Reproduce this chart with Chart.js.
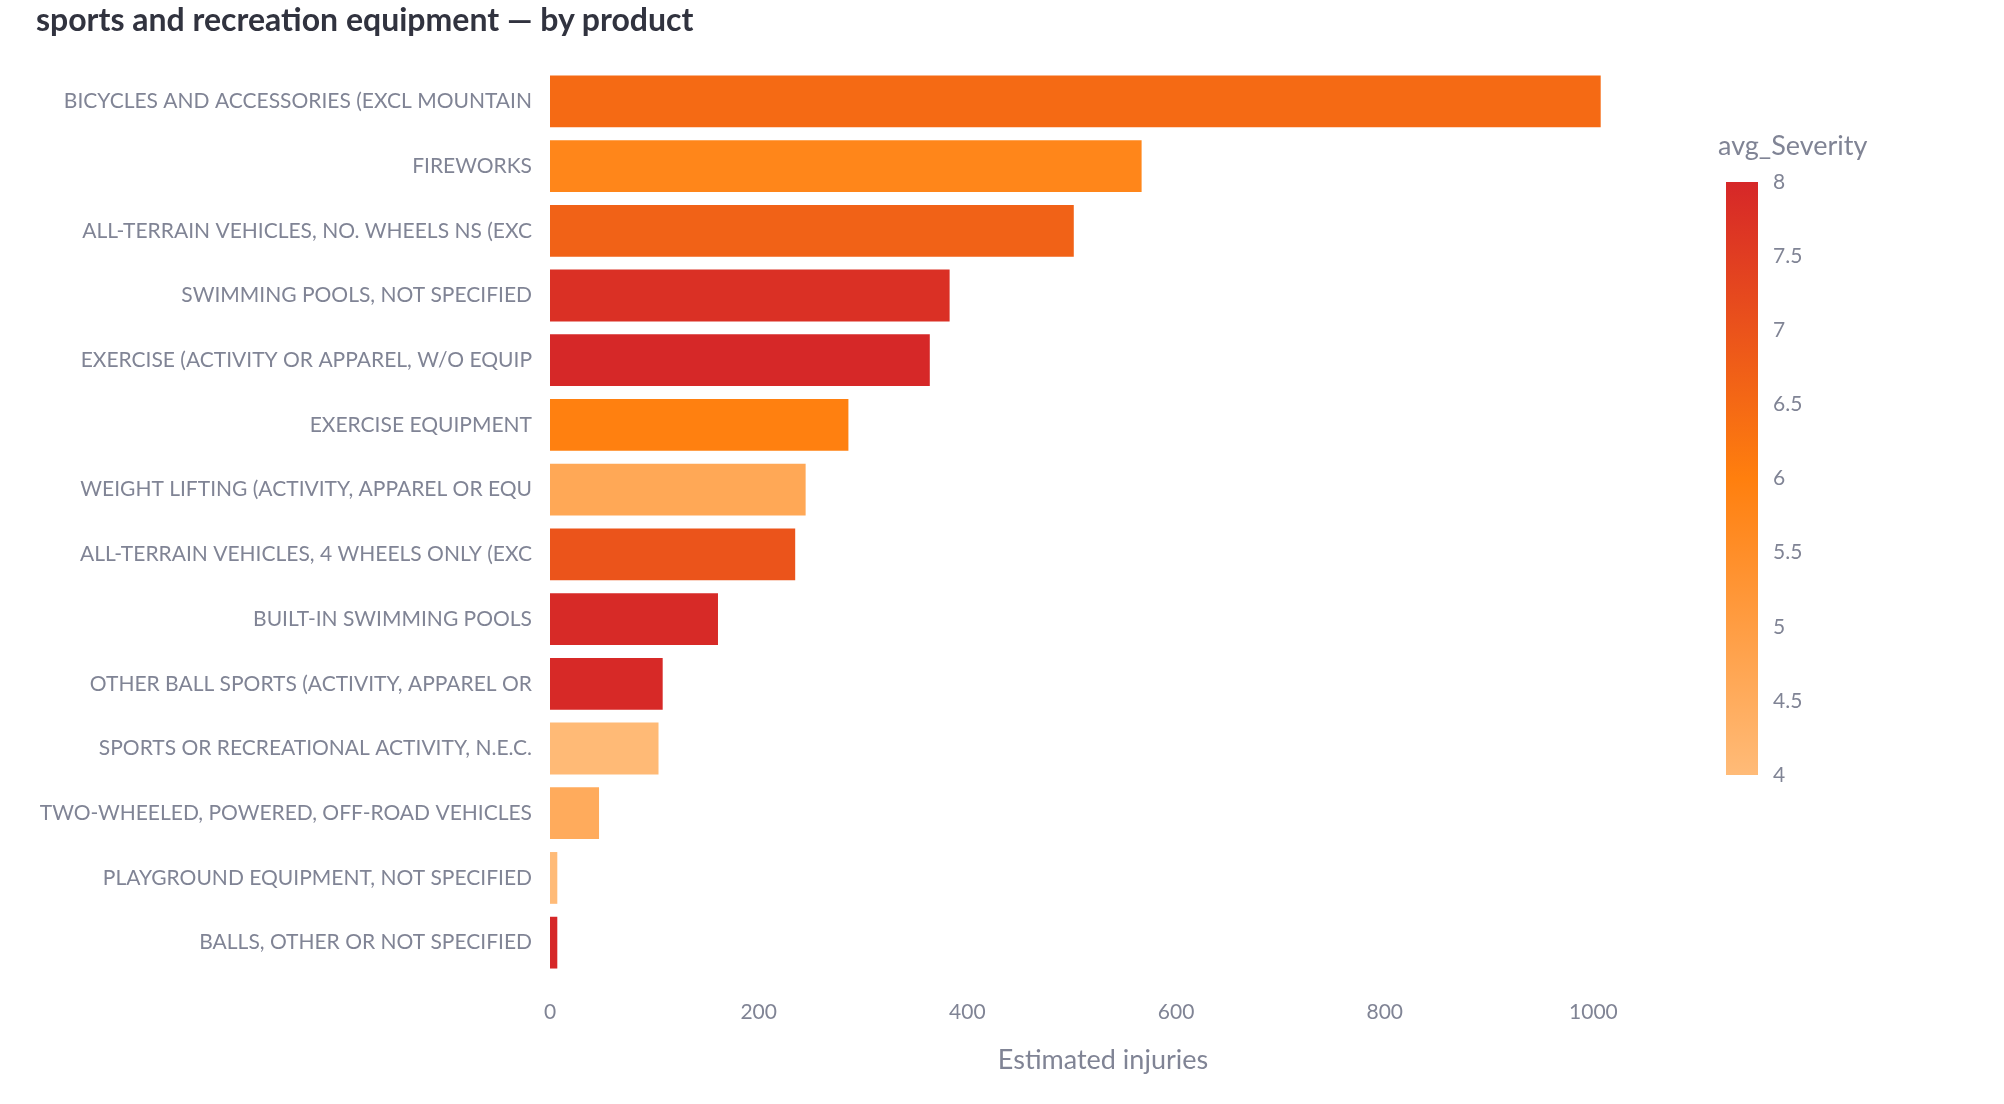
<!DOCTYPE html>
<html lang="en">
<head>
  <meta charset="UTF-8">
  <title>sports and recreation equipment — by product</title>
  <style>
    html, body {
      margin: 0;
      padding: 0;
      background: #fff;
    }
    #wrap {
      position: relative;
      width: 2004px;
      height: 1104px;
    }
    h1 {
      position: absolute;
      left: 36px;
      top: 0;
      margin: 0;
      font: bold 32px Lato, sans-serif;
      line-height: 37px;
      color: #31333F;
    }
    #chart {
      position: absolute;
      left: 0;
      top: 0;
    }
  </style>
</head>
<body>
  <div id="wrap">
    <canvas id="chart" width="2004" height="1104"></canvas>
    <h1>sports and recreation equipment — by product</h1>
  </div>

  <script src="https://cdn.jsdelivr.net/npm/chart.js"></script>
  <script>
    const products = [
      'BICYCLES AND ACCESSORIES (EXCL MOUNTAIN',
      'FIREWORKS',
      'ALL-TERRAIN VEHICLES, NO. WHEELS NS (EXC',
      'SWIMMING POOLS, NOT SPECIFIED',
      'EXERCISE (ACTIVITY OR APPAREL, W/O EQUIP',
      'EXERCISE EQUIPMENT',
      'WEIGHT LIFTING (ACTIVITY, APPAREL OR EQU',
      'ALL-TERRAIN VEHICLES, 4 WHEELS ONLY (EXC',
      'BUILT-IN SWIMMING POOLS',
      'OTHER BALL SPORTS (ACTIVITY, APPAREL OR',
      'SPORTS OR RECREATIONAL ACTIVITY, N.E.C.',
      'TWO-WHEELED, POWERED, OFF-ROAD VEHICLES',
      'PLAYGROUND EQUIPMENT, NOT SPECIFIED',
      'BALLS, OTHER OR NOT SPECIFIED'
    ];
    const injuries = [1007, 567, 502, 383, 364, 286, 245, 235, 161, 108, 104, 47, 7, 7];
    const avgSeverity = [6.48, 5.77, 6.66, 7.8, 7.98, 5.96, 4.65, 6.98, 7.93, 7.96, 4.03, 4.53, 4.0, 8.0];
    const xTicks = [0, 200, 400, 600, 800, 1000];
    const severityTicks = [4, 4.5, 5, 5.5, 6, 6.5, 7, 7.5, 8];

    const textGray = '#808495';
    const sevMin = 4, sevMax = 8;
    // colour stops: low -> mid -> high
    const stops = [[255, 187, 120], [255, 127, 14], [214, 39, 40]];

    function sevColor(v) {
      let t = (v - sevMin) / (sevMax - sevMin);
      t = Math.max(0, Math.min(1, t)) * (stops.length - 1);
      const i = Math.min(Math.floor(t), stops.length - 2);
      const f = t - i;
      const c = stops[i].map((a, k) => Math.round(a + (stops[i + 1][k] - a) * f));
      return `rgb(${c[0]}, ${c[1]}, ${c[2]})`;
    }

    // colour bar on the right
    const colorBar = {
      id: 'colorBar',
      afterDraw(chart) {
        const ctx = chart.ctx;
        const left = 1726, width = 32, top = 182, bottom = 775;
        const grad = ctx.createLinearGradient(0, bottom, 0, top);
        stops.forEach((c, i) => grad.addColorStop(i / (stops.length - 1), `rgb(${c.join(',')})`));
        ctx.save();
        ctx.fillStyle = grad;
        ctx.fillRect(left, top, width, bottom - top);

        ctx.fillStyle = textGray;
        ctx.font = '21px Lato, sans-serif';
        ctx.textAlign = 'left';
        ctx.textBaseline = 'middle';
        severityTicks.forEach(v => {
          const y = bottom - (v - sevMin) / (sevMax - sevMin) * (bottom - top);
          ctx.fillText(String(v), left + width + 15, y);
        });

        ctx.font = '27px Lato, sans-serif';
        ctx.fillText('avg_Severity', 1718, 146);
        ctx.restore();
      }
    };

    new Chart(document.getElementById('chart'), {
      type: 'bar',
      data: {
        labels: products,
        datasets: [{
          label: 'Estimated injuries',
          data: injuries,
          backgroundColor: avgSeverity.map(sevColor),
          borderWidth: 0,
          barPercentage: 0.8,
          categoryPercentage: 1.0
        }]
      },
      options: {
        indexAxis: 'y',
        responsive: false,
        animation: false,
        devicePixelRatio: 1,
        layout: {
          padding: { top: 69, right: 348, bottom: 0, left: 0 }
        },
        plugins: {
          legend: { display: false },
          tooltip: { enabled: false }
        },
        scales: {
          x: {
            min: 0,
            max: 1060,
            afterBuildTicks: scale => {
              scale.ticks = xTicks.map(v => ({ value: v }));
            },
            ticks: {
              color: textGray,
              font: { family: 'Lato, sans-serif', size: 21 },
              padding: 17,
              callback: v => String(v)
            },
            grid: { display: false },
            border: { display: false },
            title: {
              display: true,
              text: 'Estimated injuries',
              color: textGray,
              font: { family: 'Lato, sans-serif', size: 27 },
              padding: { top: 0, bottom: 28 }
            },
            afterFit: scale => { scale.height = 129; }
          },
          y: {
            ticks: {
              color: textGray,
              font: { family: 'Lato, sans-serif', size: 21 },
              padding: 10,
              autoSkip: false
            },
            grid: { display: false },
            border: { display: false },
            afterFit: scale => { scale.width = 550; }
          }
        }
      },
      plugins: [colorBar]
    });
  </script>
</body>
</html>
